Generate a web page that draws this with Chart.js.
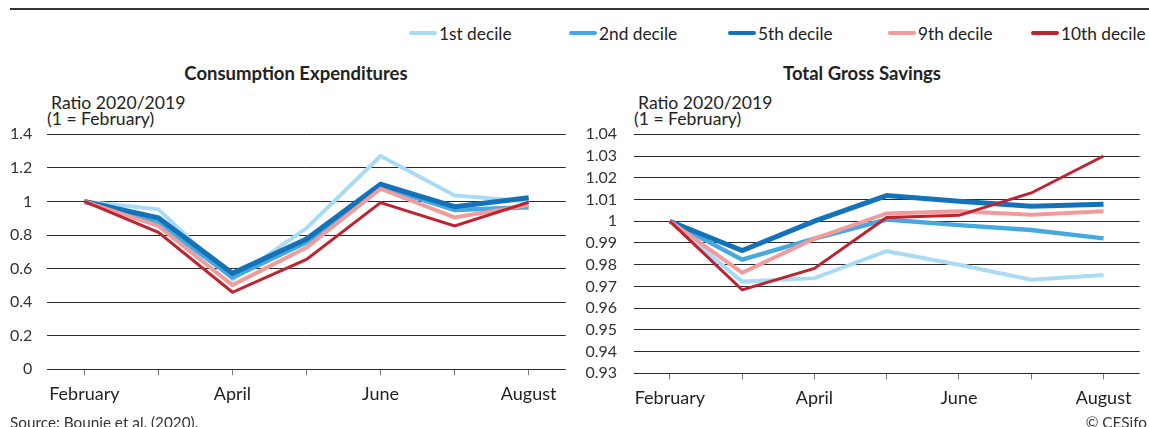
<!DOCTYPE html>
<html>
<head>
<meta charset="utf-8">
<script src="https://cdn.jsdelivr.net/npm/chart.js@4.4.1/dist/chart.umd.min.js"></script>
<style>
  html, body { margin: 0; padding: 0; background: #fff; }
  body { width: 1149px; height: 427px; position: relative; overflow: hidden;
         font-family: Lato, "Noto Sans", sans-serif; color: #222; }
  .rule { position: absolute; left: 10px; right: 0; top: 8px; height: 2px; background: #333; }
  .legend-item { position: absolute; top: 23px; height: 20px; display: flex; align-items: center;
                 font-size: 17.3px; white-space: nowrap; color: #222; }
  .legend-item .swatch { width: 28px; height: 4px; margin-right: 2px; border-radius: 2px; }
  .panel-title { position: absolute; top: 62px; font-weight: bold; font-size: 18.5px;
                 transform: translateX(-50%); white-space: nowrap; color: #222; }
  .unit { position: absolute; font-size: 17.6px; line-height: 18px; white-space: nowrap; color: #222; }
  canvas { position: absolute; }
  .note { position: absolute; font-size: 15.3px; line-height: 18px; top: 413px; white-space: nowrap; color: #333; }
</style>
</head>
<body>
<div class="rule"></div>
<div id="legend"></div>

<div class="panel-title" style="left:296px">Consumption Expenditures</div>
<div class="panel-title" style="left:862px">Total Gross Savings</div>

<div class="unit" style="left:51px; top:94px">Ratio 2020/2019</div>
<div class="unit" style="left:47px; top:110px">(1 = February)</div>
<div class="unit" style="left:638px; top:94px">Ratio 2020/2019</div>
<div class="unit" style="left:634px; top:110px">(1 = February)</div>

<canvas id="consumption" width="590" height="327" style="left:0; top:100px"></canvas>
<canvas id="savings" width="569" height="327" style="left:580px; top:100px"></canvas>

<div class="note" style="left:10px">Source: Bounie et al. (2020).</div>
<div class="note" style="right:2px">© CESifo</div>

<script>
// Months on the x axis and the ones that carry a label
const months = ['February', 'March', 'April', 'May', 'June', 'July', 'August'];
const shownMonths = ['February', 'April', 'June', 'August'];

// Income deciles
const deciles = ['1st decile', '2nd decile', '5th decile', '9th decile', '10th decile'];

// Consumption expenditures, ratio 2020/2019 (1 = February)
const cons1st  = [1, 0.953, 0.535, 0.840, 1.271, 1.036, 1.000];
const cons2nd  = [1, 0.874, 0.548, 0.757, 1.088, 0.949, 0.965];
const cons5th  = [1, 0.903, 0.572, 0.776, 1.102, 0.969, 1.022];
const cons9th  = [1, 0.854, 0.502, 0.725, 1.076, 0.905, 0.978];
const cons10th = [1, 0.816, 0.459, 0.655, 0.993, 0.854, 0.995];

// Total gross savings, ratio 2020/2019 (1 = February)
const sav1st  = [1, 0.9722, 0.9738, 0.9862, 0.9800, 0.9731, 0.9752];
const sav2nd  = [1, 0.9823, 0.9920, 1.0008, 0.9982, 0.9960, 0.9921];
const sav5th  = [1, 0.9865, 1.0000, 1.0118, 1.0092, 1.0069, 1.0078];
const sav9th  = [1, 0.9763, 0.9920, 1.0036, 1.0046, 1.0030, 1.0046];
const sav10th = [1, 0.9684, 0.9783, 1.0017, 1.0027, 1.0130, 1.0300];

// Value-axis tick labels
const consTickValues = [0, 0.2, 0.4, 0.6, 0.8, 1, 1.2, 1.4];
const savTickValues  = [0.93, 0.94, 0.95, 0.96, 0.97, 0.98, 0.99, 1, 1.01, 1.02, 1.03, 1.04];

// Series styling
const colors = ['#a9dbf5', '#45a8df', '#1473b8', '#f19c9a', '#bf2330'];
const widths = [4, 4.5, 5, 4, 3];
const fontFamily = 'Lato, "Noto Sans", sans-serif';

// Legend across the top right
const legendLeft = [409, 569, 728, 888, 1031];
const legend = document.getElementById('legend');
deciles.forEach((name, i) => {
  const item = document.createElement('div');
  item.className = 'legend-item';
  item.style.left = legendLeft[i] + 'px';
  const sw = document.createElement('span');
  sw.className = 'swatch';
  sw.style.background = colors[i];
  item.appendChild(sw);
  item.appendChild(document.createTextNode(name));
  legend.appendChild(item);
});

function makeChart(id, series, tickValues, fit) {
  return new Chart(document.getElementById(id), {
    type: 'line',
    data: {
      labels: months,
      datasets: series.map((values, i) => ({
        label: deciles[i],
        data: values,
        borderColor: colors[i],
        backgroundColor: colors[i],
        borderWidth: widths[i],
        order: series.length - 1 - i,
        pointRadius: 0,
        tension: 0,
        fill: false
      }))
    },
    options: {
      responsive: false,
      animation: false,
      events: [],
      layout: { padding: { top: fit.top, right: fit.right, left: 0, bottom: 0 } },
      plugins: { legend: { display: false }, tooltip: { enabled: false } },
      scales: {
        x: {
          offset: true,
          grid: { offset: false, drawOnChartArea: false, drawTicks: true, tickLength: 6,
                  color: '#777', lineWidth: 1 },
          border: { display: false },
          ticks: {
            autoSkip: false, maxRotation: 0, padding: fit.xPad, color: '#222',
            font: { family: fontFamily, size: 18 },
            callback: (v, i) => shownMonths.includes(months[i]) ? months[i] : ''
          },
          afterFit: s => { s.height = fit.xHeight; }
        },
        y: {
          min: tickValues[0], max: tickValues[tickValues.length - 1],
          afterBuildTicks: s => { s.ticks = tickValues.map(v => ({ value: v })); },
          ticks: {
            autoSkip: false, padding: fit.yPad, color: '#333',
            font: { family: fontFamily, size: 16 },
            callback: v => String(+Number(v).toFixed(2))
          },
          grid: { drawTicks: false, color: '#2a2a2a', lineWidth: 1 },
          border: { display: false },
          afterFit: s => { s.width = fit.yWidth; }
        }
      }
    }
  });
}

makeChart('consumption', [cons1st, cons2nd, cons5th, cons9th, cons10th], consTickValues,
  { top: 34.3, right: 24.3, xHeight: 57.7, xPad: 8, yWidth: 47.3, yPad: 15 });
makeChart('savings', [sav1st, sav2nd, sav5th, sav9th, sav10th], savTickValues,
  { top: 34.3, right: 9.3, xHeight: 53.7, xPad: 8, yWidth: 53.7, yPad: 16.7 });
</script>
</body>
</html>
